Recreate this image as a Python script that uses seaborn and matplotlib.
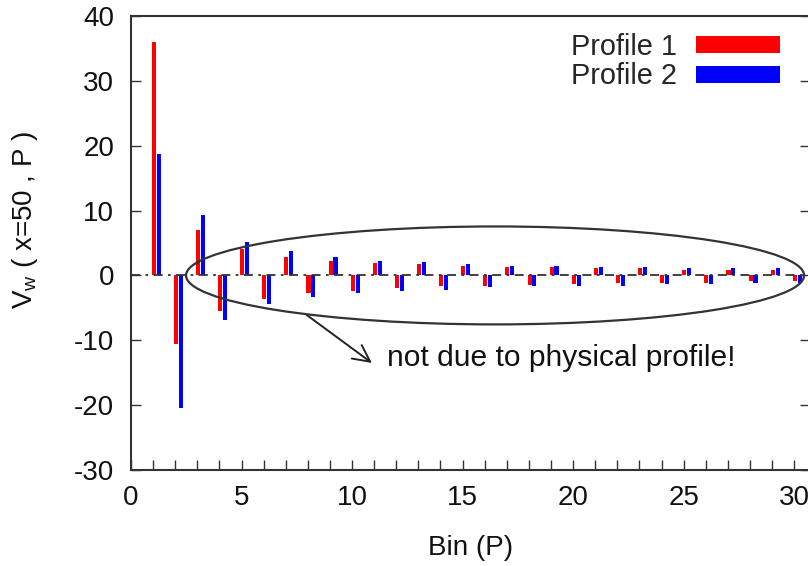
import numpy as np
import pandas as pd
import matplotlib
matplotlib.use("Agg")
import matplotlib.pyplot as plt
import seaborn as sns
from matplotlib.patches import Ellipse, Patch
from matplotlib.ticker import MultipleLocator
from matplotlib.transforms import Affine2D

# Bin index and the two velocity profiles V_w(x=50, P)
bins = list(range(1, 31))
profile1 = [36.0, -10.6, 7.0, -5.5, 4.1, -3.6, 2.9, -2.75, 2.3, -2.4,
            1.9, -2.0, 1.7, -1.7, 1.5, -1.6, 1.3, -1.4, 1.3, -1.3,
            1.1, -1.1, 1.1, -1.1, 0.85, -1.1, 0.85, -0.85, 0.85, -0.85]
profile2 = [18.7, -20.5, 9.3, -6.9, 5.2, -4.4, 3.7, -3.4, 2.9, -2.75,
            2.3, -2.4, 2.1, -2.2, 1.7, -1.8, 1.5, -1.7, 1.5, -1.6,
            1.3, -1.6, 1.3, -1.3, 1.1, -1.3, 1.1, -1.1, 1.1, -1.1]
series_names = ["Profile 1", "Profile 2"]
series_colors = ["#ff0000", "#0000ff"]
yticks = [-30, -20, -10, 0, 10, 20, 30, 40]
xticks = [0, 5, 10, 15, 20, 25, 30]

df = pd.DataFrame({
    "bin": bins * 2,
    "value": profile1 + profile2,
    "profile": [series_names[0]] * len(bins) + [series_names[1]] * len(bins),
})

sns.set_theme(style="ticks")
plt.rcParams["font.family"] = ["Liberation Sans", "DejaVu Sans"]
plt.rcParams["mathtext.fontset"] = "custom"
plt.rcParams["mathtext.rm"] = "Liberation Sans"
plt.rcParams["mathtext.it"] = "Liberation Sans:italic"
plt.rcParams["axes.unicode_minus"] = False

FS = 20

fig = plt.figure(figsize=(8.08, 5.66), dpi=100)
ax = fig.add_axes([131 / 808, 1 - 470 / 566, 1.002 - 131 / 808, (470 - 16) / 566])

sns.barplot(data=df, x="bin", y="value", hue="profile", native_scale=True,
            palette=series_colors, hue_order=series_names, width=0.44, gap=0.16,
            dodge=True, errorbar=None, legend=False, linewidth=0, saturation=1,
            ax=ax)

# nudge the bar pairs to the right of each bin, gnuplot-style
shift = Affine2D().translate(0.14, 0) + ax.transData
for p in ax.patches:
    p.set_transform(shift)

# dash-dot zero axis
ax.axhline(0, color="#333333", lw=1.3, ls=(0, (5, 3, 1.5, 3)), zorder=3)

# ellipse around the oscillating bins with an annotation arrow
ax.add_patch(Ellipse((16.47, 0), 27.96, 15.1, fill=False, ec="#333333", lw=1.6, zorder=4))
ax.annotate("", xy=(10.9, -13.5), xytext=(7.95, -6.1),
            arrowprops=dict(arrowstyle="->", color="#222222", lw=1.4,
                            mutation_scale=30, shrinkA=0, shrinkB=0))
ax.text(11.6, -13.95, "not due to physical profile!", fontsize=21.6,
        color="#111111", va="baseline", ha="left")

ax.set_xlim(0, 30.7)
ax.set_ylim(-30, 40)
ax.set_yticks(yticks)
ax.set_xticks(xticks)
ax.xaxis.set_minor_locator(MultipleLocator(1))
ax.tick_params(axis="both", which="both", direction="in", length=7.2, width=1.0,
               color="#333333", labelsize=FS, labelcolor="#111111")
ax.tick_params(axis="y", right=True, pad=12)
ax.tick_params(axis="x", which="both", top=False, pad=11)
for s in ax.spines.values():
    s.set_color("#333333")
    s.set_linewidth(1.5)

ax.set_xlabel("Bin (P)", fontsize=FS, color="#111111", va="center")
ax.xaxis.set_label_coords(0.5, (470 - 548) / 454)
ax.set_ylabel(r"V$_{\mathregular{w}}$ ( x=50 , P )", fontsize=FS, color="#111111", va="center")
ax.yaxis.set_label_coords((25 - 131) / 677, (470 - 220) / 454)

handles = [Patch(facecolor=c, edgecolor="none") for c in series_colors]
ax.legend(handles, series_names, loc="upper right", bbox_to_anchor=(780 / 808, 1 - 33 / 566),
          bbox_transform=fig.transFigure, frameon=False, markerfirst=False, fontsize=20.8,
          handlelength=2.9, handleheight=0.55, handletextpad=0.65, labelspacing=0.05,
          borderpad=0, borderaxespad=0)

fig.savefig("out.png", dpi=100)
